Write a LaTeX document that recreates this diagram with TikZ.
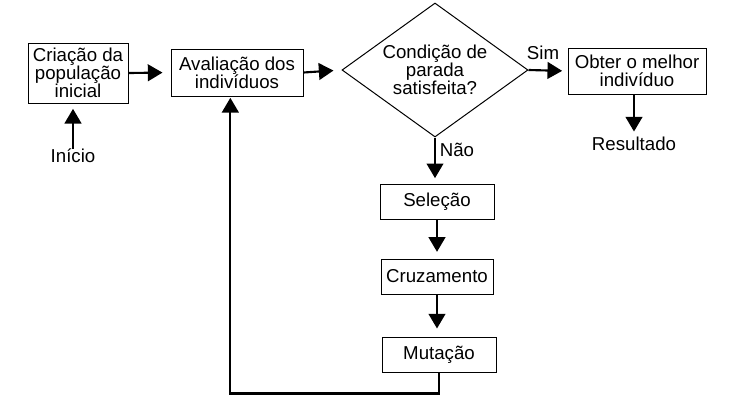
\documentclass[tikz,border=0pt]{standalone}
\usepackage{fontspec}
\setmainfont{Liberation Sans}
\usetikzlibrary{shapes}
\usetikzlibrary{arrows.meta}

\begin{document}
\begin{tikzpicture}[x=0.75pt,y=0.75pt,yscale=-1,xscale=1,
  every node/.style={font=\fontsize{14pt}{13.6pt}\selectfont,align=center,inner sep=0pt},
  boxnode/.style={draw,line width=0.75pt},
  flow/.style={line width=1.6pt,-{Triangle[length=11pt,width=12.5pt]},shorten >=4pt}]
\useasboundingbox (0,0) rectangle (743,414);

%Shape: Rectangle [id:criacao]
\node (criacao) at (78,73) [boxnode,minimum width=75pt,minimum height=45pt] {Criação da\\população\\inicial};
%Shape: Rectangle [id:avaliacao]
\node (avaliacao) at (237,72.5) [boxnode,minimum width=99pt,minimum height=35.25pt] {Avaliação dos\\indivíduos};
%Shape: Diamond [id:condicao]
\node (condicao) at (435,70) [boxnode,diamond,minimum width=139.5pt,minimum height=100.5pt] {};
\node (condtexto) at (condicao.center) {Condição de\\parada\\satisfeita?};
%Shape: Rectangle [id:melhor]
\node (melhor) at (637,71) [boxnode,minimum width=103.5pt,minimum height=34.5pt] {Obter o melhor\\indivíduo};
%Shape: Rectangle [id:selecao]
\node (selecao) at (437,201.5) [boxnode,minimum width=85.5pt,minimum height=26.25pt] {Seleção};
%Shape: Rectangle [id:cruzamento]
\node (cruzamento) at (437,276.5) [boxnode,minimum width=84pt,minimum height=26.25pt] {Cruzamento};
%Shape: Rectangle [id:mutacao]
\node (mutacao) at (439,354.5) [boxnode,minimum width=85.5pt,minimum height=26.25pt] {Mutação};

% Text Node
\node (inicio) at (73,156) {Início};
% Text Node
\node (resultado) at (634,144) {Resultado};
% Text Node
\node (sim) at (543,53) {Sim};
% Text Node
\node (nao) at (457,150) {Não};

%Straight Lines
\draw [flow] (inicio.north) -- (inicio.north |- criacao.south);
\draw [flow,shorten >=6pt] (criacao.east) -- (avaliacao.west);
\draw [flow,shorten >=6pt] (avaliacao.east) -- (condicao.west);
\draw [flow] (condicao.east) -- (melhor.west);
\draw [flow] (resultado.north |- melhor.south) -- (resultado.north);
\draw [flow] (condicao.south) -- (condicao.south |- selecao.north);
\draw [flow,shorten >=5pt] (selecao.south) -- (cruzamento.north);
\draw [flow,shorten >=6pt] (cruzamento.south) -- (cruzamento.south |- mutacao.north);
\draw [flow,shorten >=1pt] (mutacao.south) -- ++(0,21) -| ([xshift=-5pt]avaliacao.south);

\end{tikzpicture}
\end{document}
